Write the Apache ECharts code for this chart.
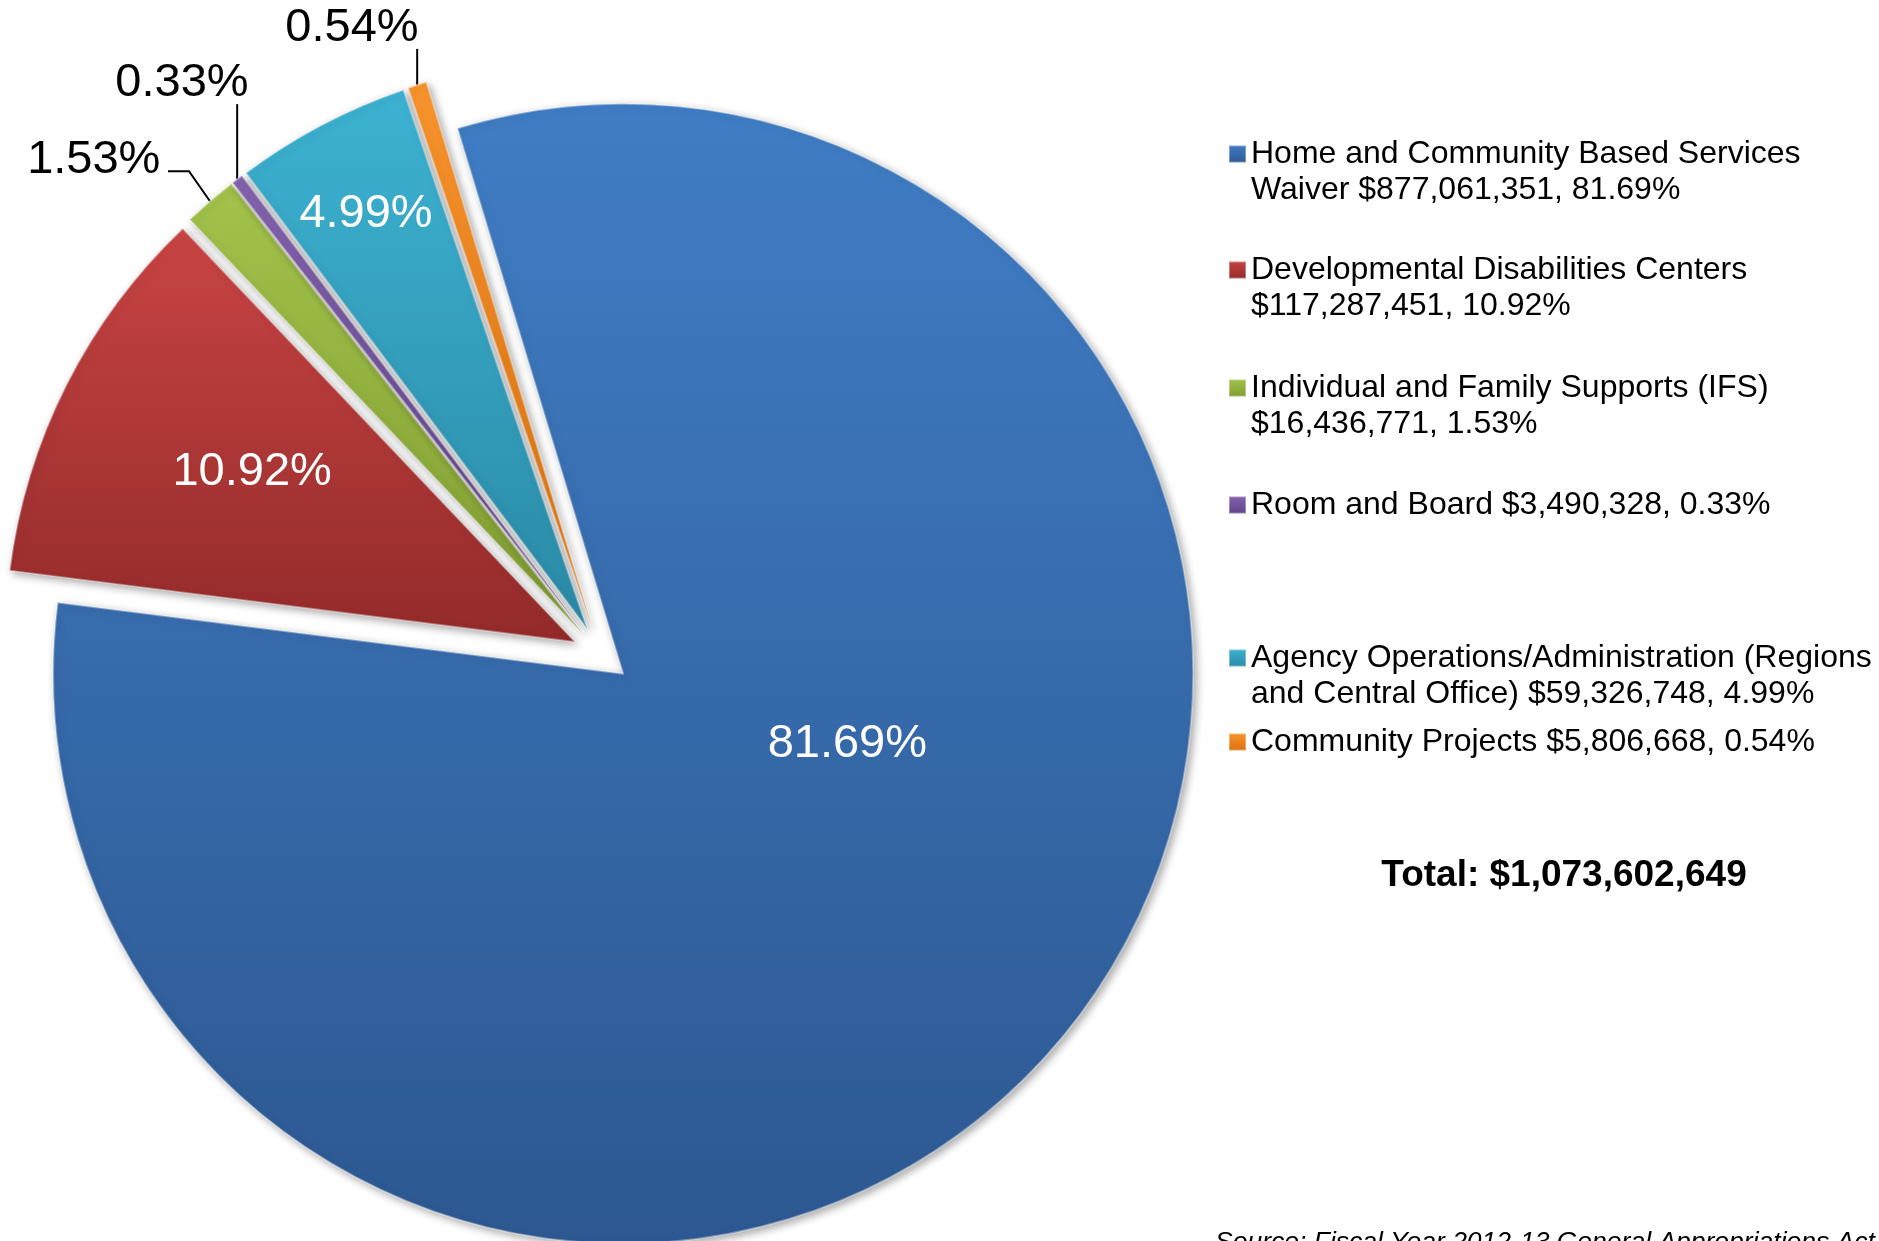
<!DOCTYPE html>
<html><head><meta charset="utf-8">
<script src="https://cdn.jsdelivr.net/npm/echarts@6/dist/echarts.min.js"></script>
<style>html,body{margin:0;padding:0;background:#fff}#c{width:1879px;height:1241px}</style>
</head><body><div id="c"></div>
<script>
// ---- data ----
const categories = [
  'Home and Community Based Services Waiver',
  'Developmental Disabilities Centers',
  'Individual and Family Supports (IFS)',
  'Room and Board',
  'Agency Operations/Administration (Regions and Central Office)',
  'Community Projects'
];
const amounts = [877061351, 117287451, 16436771, 3490328, 59326748, 5806668];
const percents = [81.69, 10.92, 1.53, 0.33, 4.99, 0.54];
const totalLabel = 'Total: $1,073,602,649';
const sourceLabel = 'Source: Fiscal Year 2012-13 General Appropriations Act';

// ---- styles / layout ----
const colorsTop = ['#407dc5', '#c94444', '#a3c34b', '#8464ae', '#3db2d2', '#f8942d'];
const colorsBottom = ['#2d5891', '#932a2a', '#809b31', '#5e4287', '#2a8aa6', '#da710f'];
const insideIdx = [0, 1, 4];
// label shifts relative to the library's default label position, and leader paths relative to the slice edge point
const labelTweaks = [
  {dx: 4, dy: -115},
  {dx: -66, dy: -40},
  {dx: -5, dy: -18, path: [[-21, -30], [-42, -30]]},
  {dx: -12, dy: -72, path: [[0, -75]], align: 'center'},
  {dx: -87, dy: -161},
  {dx: -31, dy: -28, path: [[0, -36]], align: 'center'}
];
const legendTops = [100, 216, 334, 487, 604, 724];
const legendFirstLineWords = [5, 3, 5, 99, 3, 99];
const FONT = '"Liberation Sans", Arial, sans-serif';

function grad(i) {
  return {type: 'linear', x: 0, y: 0, x2: 0, y2: 1,
    colorStops: [{offset: 0, color: colorsTop[i]}, {offset: 1, color: colorsBottom[i]}]};
}

const chart = echarts.init(document.getElementById('c'), null, {renderer: 'canvas'});

const seriesData = categories.map((n, i) => {
  const inside = insideIdx.indexOf(i) >= 0;
  return {
    name: n, value: percents[i], selected: true,
    itemStyle: {color: grad(i)},
    label: inside ? {position: 'inside', color: '#fff'} : {position: 'outside', color: '#000'},
    labelLine: {show: !inside}
  };
});

function legendText(name) {
  const k = categories.indexOf(name);
  const words = (name + ' $' + amounts[k].toLocaleString('en-US') + ', ' + percents[k].toFixed(2) + '%').split(' ');
  const n = legendFirstLineWords[k];
  if (n >= words.length) return words.join(' ');
  // leading blank line keeps the icon level with the first text line
  return '\n' + words.slice(0, n).join(' ') + '\n' + words.slice(n).join(' ');
}

const option = {
  backgroundColor: '#fff',
  animation: false,
  legend: categories.map((n, i) => ({
    data: [n], orient: 'vertical', left: 1228, top: legendTops[i], padding: 0,
    itemWidth: 17, itemHeight: 17, itemGap: 0, selectedMode: false, icon: 'rect',
    formatter: legendText,
    textStyle: {fontSize: 32, lineHeight: 36, color: '#000', fontFamily: FONT}
  })),
  graphic: [
    {type: 'text', x: 1564, y: 876, style: {text: totalLabel, font: 'bold 37px ' + FONT, fill: '#000', align: 'center', verticalAlign: 'middle'}},
    {type: 'text', x: 1215, y: 1229, style: {text: sourceLabel, font: 'italic 26.5px ' + FONT, fill: '#000', align: 'left', verticalAlign: 'top'}}
  ],
  series: [{
    type: 'pie',
    center: [601, 655],
    radius: 570,
    startAngle: 106.9,
    clockwise: true,
    selectedMode: 'multiple',
    selectedOffset: 29,
    avoidLabelOverlap: false,
    emphasis: {disabled: true},
    itemStyle: {borderColor: 'rgba(255,255,255,0.35)', borderWidth: 2,
      shadowBlur: 8, shadowOffsetX: 3, shadowOffsetY: 3, shadowColor: 'rgba(0,0,0,0.35)'},
    label: {show: true, fontSize: 47, fontFamily: FONT,
      formatter: p => p.value.toFixed(2) + '%'},
    labelLine: {length: 30, length2: 20, lineStyle: {color: '#000', width: 2}},
    labelLayout: function (params) {
      const L = labelTweaks[params.dataIndex];
      const out = {dx: L.dx, dy: L.dy};
      if (L.align) out.align = L.align;
      const p = params.labelLinePoints;
      if (L.path && p && p.length) {
        const p0 = p[0];
        out.labelLinePoints = [[p0[0], p0[1]]].concat(L.path.map(d => [p0[0] + d[0], p0[1] + d[1]]));
      }
      return out;
    },
    data: seriesData
  }]
};
chart.setOption(option);
</script>
</body></html>
